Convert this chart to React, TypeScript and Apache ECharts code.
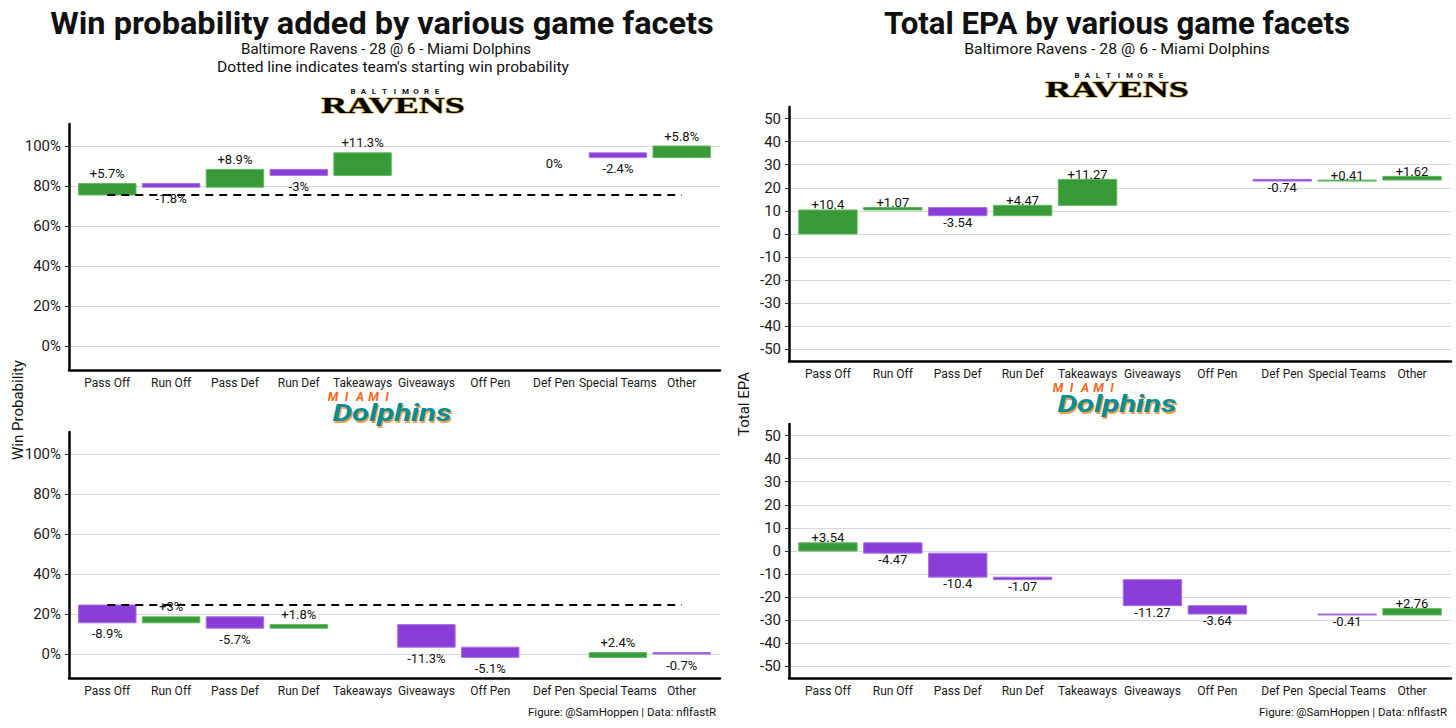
import React, { useEffect, useRef } from 'react';
import * as echarts from 'echarts';

// ---------- data ----------
const categories = ['Pass Off', 'Run Off', 'Pass Def', 'Run Def', 'Takeaways', 'Giveaways', 'Off Pen', 'Def Pen', 'Special Teams', 'Other'];

// Win probability added (percentage points); null = no value shown
const wpRavens: (number | null)[] = [5.7, -1.8, 8.9, -3, 11.3, null, null, 0, -2.4, 5.8];
const wpDolphins: (number | null)[] = [-8.9, 3, -5.7, 1.8, null, -11.3, -5.1, null, 2.4, -0.7];
const wpStartRavens = 75.5;
const wpStartDolphins = 24.5;

// Total EPA
const epaRavens: (number | null)[] = [10.4, 1.07, -3.54, 4.47, 11.27, null, null, -0.74, 0.41, 1.62];
const epaDolphins: (number | null)[] = [3.54, -4.47, -10.4, -1.07, null, -11.27, -3.64, null, -0.41, 2.76];
const epaStart = 0;

const wpTicks = [0, 20, 40, 60, 80, 100];
const epaTicks = [-50, -40, -30, -20, -10, 0, 10, 20, 30, 40, 50];

// ---------- styling ----------
const FONT = 'Roboto, "Noto Sans", sans-serif';
const GREEN = '#379a37';
const GREEN_EDGE = '#62b862';
const PURPLE = '#8a3dd6';
const PURPLE_EDGE = '#a772e3';

function waterfall(values: (number | null)[], start: number) {
  const rows: number[][] = [];
  let cum = start;
  values.forEach((v, i) => {
    if (v === null) return;
    rows.push([i, cum, cum + v, v]);
    cum += v;
  });
  return rows;
}

const wpFmt = (v: number) => (v > 0 ? `+${v}%` : `${v}%`);
const epaFmt = (v: number) => (v > 0 ? `+${v}` : `${v}`);

function makeRender(fmt: (v: number) => string, dPos: number, dNeg: number) {
  return (params: any, api: any) => {
    const i = api.value(0);
    const s = api.value(1);
    const e = api.value(2);
    const v = api.value(3);
    const hi = Math.max(s, e);
    const lo = Math.min(s, e);
    const tl = api.coord([i - 0.45, hi]);
    const br = api.coord([i + 0.45, lo]);
    const children: any[] = [];
    if (v !== 0) {
      children.push({
        type: 'rect',
        shape: { x: tl[0], y: tl[1], width: br[0] - tl[0], height: Math.max(br[1] - tl[1], 0.8) },
        style: { fill: v > 0 ? GREEN : PURPLE, stroke: v > 0 ? GREEN_EDGE : PURPLE_EDGE, lineWidth: 1 },
      });
    }
    const cx = (tl[0] + br[0]) / 2;
    children.push({
      type: 'text',
      z2: 10,
      style: {
        text: fmt(v),
        x: cx,
        y: v > 0 ? tl[1] - dPos : br[1] + dNeg,
        align: 'center',
        verticalAlign: 'middle',
        fontSize: 13,
        fontFamily: FONT,
        fill: '#111',
      },
    });
    return { type: 'group', children };
  };
}

const measureCtx = typeof document !== 'undefined' ? document.createElement('canvas').getContext('2d') : null;
function fitScale(text: string, size: number, weight: string, target: number) {
  if (!measureCtx) return 1;
  measureCtx.font = `${weight} ${size}px Roboto`;
  const w = measureCtx.measureText(text).width;
  return w > 0 ? target / w : 1;
}

function txt(text: string, x: number, y: number, size: number, opts: any = {}) {
  const { weight = 'normal', align = 'center', fill = '#111', target, rotation, family = FONT, style = {} } = opts;
  const scale = target ? fitScale(text, size, weight, target) : 1;
  const el: any = {
    type: 'text',
    x,
    y,
    scaleX: scale,
    style: { text, fontSize: size, fontWeight: weight, fontFamily: family, fill, align, verticalAlign: 'middle', ...style },
  };
  if (rotation !== undefined) el.rotation = rotation;
  return el;
}

function spaced(text: string, cx: number, cy: number, step: number, style: any) {
  const n = text.length;
  return text.split('').map((ch, j) => ({
    type: 'text',
    x: cx + (j - (n - 1) / 2) * step,
    y: cy,
    style: { text: ch, align: 'center', verticalAlign: 'middle', ...style },
  }));
}

function ravensLogo(cx: number, cy: number) {
  return [
    ...spaced('BALTIMORE', cx + 2, cy - 14, 10.5, { fontSize: 8, fontWeight: 'bold', fontFamily: FONT, fill: '#111' }),
    {
      type: 'text',
      x: cx,
      y: cy,
      scaleX: 1.5,
      style: {
        text: 'RAVENS',
        fontSize: 24,
        fontWeight: 'bold',
        fontFamily: '"Liberation Serif", "DejaVu Serif", serif',
        fill: '#000',
        stroke: '#c9a640',
        lineWidth: 1.2,
        align: 'center',
        verticalAlign: 'middle',
      },
    },
  ];
}

function dolphinsLogo(cx: number, cy: number) {
  const base = { fontSize: 24, fontWeight: 'bold', fontStyle: 'italic', fontFamily: FONT, align: 'center', verticalAlign: 'middle' };
  return [
    ...spaced('MIAMI', cx - 32, cy - 17, 13.5, { fontSize: 12.5, fontWeight: 'bold', fontStyle: 'italic', fontFamily: FONT, fill: '#f26a21' }),
    { type: 'text', x: cx + 1.5, y: cy + 1.8, scaleX: 1.3, style: { ...base, text: 'Dolphins', fill: '#f0a050' } },
    { type: 'text', x: cx, y: cy, scaleX: 1.3, style: { ...base, text: 'Dolphins', fill: '#008e97' } },
  ];
}

const panels = [
  { grid: { left: 69, top: 124, width: 651, height: 246 }, min: -12, max: 111, ticks: wpTicks, axisFmt: (v: number) => `${v}%`, data: waterfall(wpRavens, wpStartRavens), fmt: wpFmt, dPos: 10, dNeg: 11, start: wpStartRavens as number | null },
  { grid: { left: 69, top: 432, width: 651, height: 246 }, min: -12, max: 111, ticks: wpTicks, axisFmt: (v: number) => `${v}%`, data: waterfall(wpDolphins, wpStartDolphins), fmt: wpFmt, dPos: 10, dNeg: 11, start: wpStartDolphins as number | null },
  { grid: { left: 789, top: 107, width: 662, height: 254 }, min: -55, max: 55, ticks: epaTicks, axisFmt: (v: number) => `${v}`, data: waterfall(epaRavens, epaStart), fmt: epaFmt, dPos: 5, dNeg: 6.5, start: null },
  { grid: { left: 789, top: 424, width: 662, height: 254 }, min: -55, max: 55, ticks: epaTicks, axisFmt: (v: number) => `${v}`, data: waterfall(epaDolphins, epaStart), fmt: epaFmt, dPos: 5, dNeg: 6.5, start: null },
];

function buildOption() {
  const series: any[] = [];
  panels.forEach((p, k) => {
    series.push({
      type: 'custom',
      xAxisIndex: k,
      yAxisIndex: k,
      data: p.data,
      encode: { x: 0, y: [1, 2] },
      renderItem: makeRender(p.fmt, p.dPos, p.dNeg),
      clip: false,
      z: 3,
      silent: true,
    });
    if (p.start !== null) {
      series.push({
        type: 'line',
        xAxisIndex: k,
        yAxisIndex: k,
        data: [[0, p.start], [categories.length - 1, p.start]],
        symbol: 'none',
        lineStyle: { color: '#000', width: 2, type: [8, 6] },
        z: 5,
        silent: true,
      });
    }
  });

  const graphic: any[] = [
    txt('Win probability added by various game facets', 382, 24, 31, { weight: 'bold', target: 664 }),
    txt('Baltimore Ravens - 28 @ 6 - Miami Dolphins', 386, 49, 15, { target: 290 }),
    txt("Dotted line indicates team's starting win probability", 393, 67, 15, { target: 352 }),
    txt('Total EPA by various game facets', 1117, 24, 31, { weight: 'bold', target: 466 }),
    txt('Baltimore Ravens - 28 @ 6 - Miami Dolphins', 1117, 49, 15, { target: 306 }),
    txt('Win Probability', 18, 410, 15, { rotation: Math.PI / 2 }),
    txt('Total EPA', 744, 404, 15, { rotation: Math.PI / 2 }),
    txt('Figure: @SamHoppen | Data: nflfastR', 716, 713, 11, { align: 'right', target: 188 }),
    txt('Figure: @SamHoppen | Data: nflfastR', 1447, 713, 11, { align: 'right', target: 188 }),
    ...ravensLogo(393, 105),
    ...ravensLogo(1117, 89),
    ...dolphinsLogo(392, 413),
    ...dolphinsLogo(1117, 404),
  ];

  return {
    animation: false,
    backgroundColor: '#ffffff',
    textStyle: { fontFamily: FONT },
    grid: panels.map((p) => ({ ...p.grid, containLabel: false })),
    xAxis: panels.map((p, k) => ({
      type: 'value',
      gridIndex: k,
      min: -0.6,
      max: 9.6,
      axisLine: { show: true, onZero: false, lineStyle: { color: '#000', width: 2.5 } },
      axisTick: { show: false },
      splitLine: { show: false },
      axisLabel: {
        customValues: categories.map((_, i) => i),
        formatter: (v: number) => categories[Math.round(v)] ?? '',
        fontSize: 12,
        color: '#1a1a1a',
        margin: 7,
        fontFamily: FONT,
      },
    })),
    yAxis: panels.map((p, k) => ({
      type: 'value',
      gridIndex: k,
      min: p.min,
      max: p.max,
      axisLine: { show: true, onZero: false, lineStyle: { color: '#000', width: 2.5 } },
      axisTick: { show: true, length: 4, customValues: p.ticks, lineStyle: { color: '#333', width: 1 } },
      axisLabel: { customValues: p.ticks, formatter: p.axisFmt, fontSize: 15, color: '#1a1a1a', margin: 8, fontFamily: FONT },
      splitLine: { show: true, lineStyle: { color: '#d9d9d9', width: 1 } },
    })),
    series,
    graphic,
  };
}

export default function App() {
  const ref = useRef<HTMLDivElement>(null);
  useEffect(() => {
    document.body.style.margin = '0';
    if (!ref.current) return;
    const chart = echarts.init(ref.current, undefined, { renderer: 'svg' });
    chart.setOption(buildOption() as any);
    return () => chart.dispose();
  }, []);
  return <div ref={ref} style={{ position: 'absolute', left: 0, top: 0, width: 1456, height: 728, background: '#fff' }} />;
}
